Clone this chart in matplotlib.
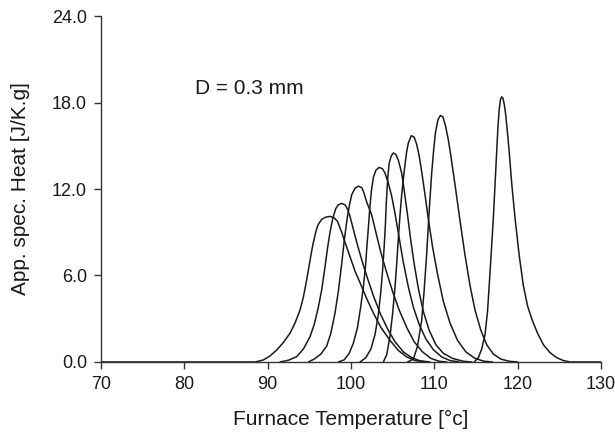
import matplotlib
matplotlib.use("Agg")
import matplotlib.pyplot as plt

plt.rcParams['font.family'] = ['Liberation Sans', 'DejaVu Sans']

# Apparent specific heat curves (furnace temperature in °C, heat in J/K.g)
temp_1 = [70.0, 88.5, 89.5, 90.3, 91.1, 91.9, 92.7, 93.3, 93.9, 94.3, 94.7, 95.0, 95.3, 95.5, 95.7,
          95.9, 96.1, 96.5, 97.0, 97.5, 98.0, 98.4, 98.9, 99.3, 99.9, 100.5, 101.1, 101.9, 102.7,
          103.6, 104.7, 105.7, 106.7, 107.7, 109.0]
heat_1 = [0.0, 0.0, 0.14, 0.42, 0.83, 1.35, 2.0, 2.7, 3.6, 4.5, 5.7, 6.7, 7.7, 8.3, 8.8,
          9.25, 9.55, 9.9, 10.05, 10.1, 10.0, 9.75, 9.0, 8.3, 7.3, 6.3, 5.5, 4.4, 3.4,
          2.4, 1.5, 0.8, 0.35, 0.1, 0.0]

temp_2 = [91.5, 92.5, 93.5, 94.3, 95.1, 95.6, 96.1, 96.5, 96.9, 97.2, 97.5, 97.7, 97.9, 98.2, 98.5,
          98.9, 99.3, 99.6, 99.9, 100.3, 100.8, 101.4, 102.0, 102.7, 103.5, 104.4, 105.3, 106.3,
          107.3, 108.3, 109.5]
heat_2 = [0.0, 0.12, 0.37, 0.9, 1.75, 2.6, 3.8, 5.0, 6.6, 7.9, 9.0, 9.6, 10.1, 10.65, 10.9,
          11.0, 10.9, 10.6, 10.1, 9.2, 8.1, 6.9, 5.8, 4.6, 3.4, 2.3, 1.4, 0.7,
          0.3, 0.08, 0.0]

temp_3 = [94.9, 95.6, 96.4, 97.1, 97.6, 98.1, 98.5, 98.9, 99.2, 99.45, 99.6, 99.8, 100.1, 100.5,
          100.9, 101.3, 101.5, 101.9, 102.5, 103.0, 103.6, 104.3, 105.0, 105.8, 106.7, 107.6,
          108.6, 109.6, 110.6, 111.5]
heat_3 = [0.0, 0.2, 0.55, 1.1, 2.0, 3.4, 4.9, 6.8, 8.4, 9.5, 10.1, 10.8, 11.6, 12.05,
          12.2, 12.1, 11.85, 11.1, 10.2, 9.0, 7.6, 6.2, 4.9, 3.6, 2.4, 1.4,
          0.7, 0.25, 0.05, 0.0]

temp_4 = [98.5, 99.2, 99.8, 100.3, 100.8, 101.2, 101.5, 101.75, 101.95, 102.1, 102.25, 102.45,
          102.7, 103.0, 103.4, 103.8, 104.1, 104.5, 104.9, 105.3, 105.8, 106.3, 106.9, 107.5,
          108.2, 109.0, 109.9, 110.9, 111.9, 113.0]
heat_4 = [0.0, 0.15, 0.6, 1.3, 2.4, 3.9, 5.2, 6.6, 8.2, 9.3, 10.5, 11.8,
          12.8, 13.3, 13.5, 13.4, 13.1, 12.4, 11.5, 10.3, 8.6, 6.9, 5.2, 3.8,
          2.6, 1.6, 0.85, 0.35, 0.1, 0.0]

temp_5 = [101.1, 101.8, 102.4, 102.9, 103.3, 103.6, 103.8, 104.0, 104.15, 104.25, 104.35, 104.45,
          104.6, 104.85, 105.1, 105.4, 105.7, 106.1, 106.4, 106.8, 107.2, 107.6, 108.1, 108.7,
          109.4, 110.2, 111.1, 112.2, 113.5, 114.5]
heat_5 = [0.0, 0.3, 0.9, 1.9, 3.3, 4.9, 6.3, 8.0, 9.6, 11.0, 12.0, 12.9,
          13.8, 14.3, 14.5, 14.4, 14.0, 13.1, 11.9, 10.2, 8.4, 6.8, 5.1, 3.5,
          2.2, 1.2, 0.6, 0.25, 0.05, 0.0]

temp_6 = [103.9, 104.3, 104.7, 105.0, 105.3, 105.5, 105.7, 105.9, 106.1, 106.3, 106.5, 106.7,
          106.9, 107.25, 107.6, 107.9, 108.2, 108.5, 108.9, 109.3, 109.8, 110.4, 111.1, 111.9,
          112.8, 113.8, 114.9, 116.0, 117.0]
heat_6 = [0.0, 0.5, 1.8, 3.3, 5.2, 6.8, 8.6, 10.2, 11.6, 12.7, 13.7, 14.6,
          15.2, 15.7, 15.6, 15.1, 14.3, 13.2, 11.6, 9.9, 8.0, 6.1, 4.2, 2.7,
          1.5, 0.7, 0.25, 0.05, 0.0]

temp_7 = [106.8, 107.5, 108.0, 108.5, 108.8, 109.1, 109.4, 109.7, 109.95, 110.15, 110.45, 110.75,
          111.05, 111.35, 111.7, 112.0, 112.5, 113.1, 113.7, 114.3, 114.9, 115.6, 116.3, 117.1,
          118.0, 119.0, 120.0]
heat_7 = [0.0, 0.2, 1.1, 2.9, 5.0, 7.5, 10.5, 13.1, 14.8, 15.9, 16.8, 17.1,
          17.0, 16.4, 15.4, 14.3, 12.3, 9.8, 7.4, 5.3, 3.6, 2.2, 1.2, 0.55,
          0.2, 0.05, 0.0]

temp_8 = [114.8, 115.3, 115.7, 116.1, 116.4, 116.6, 116.85, 117.1, 117.3, 117.5, 117.65, 117.8,
          117.95, 118.1, 118.25, 118.4, 118.55, 118.75, 119.0, 119.3, 119.7, 120.2, 120.7, 121.2,
          121.7, 122.4, 123.1, 123.9, 124.7, 125.5, 126.3, 130.0]
heat_8 = [0.0, 0.3, 0.9, 1.9, 3.5, 5.3, 7.6, 10.0, 12.3, 14.6, 16.3, 17.5,
          18.2, 18.4, 18.3, 17.9, 17.3, 16.2, 14.6, 12.4, 10.0, 7.4, 5.3, 3.9,
          3.0, 2.0, 1.2, 0.65, 0.3, 0.1, 0.0, 0.0]

curves = [(temp_1, heat_1), (temp_2, heat_2), (temp_3, heat_3), (temp_4, heat_4),
          (temp_5, heat_5), (temp_6, heat_6), (temp_7, heat_7), (temp_8, heat_8)]

x_ticks = [70, 80, 90, 100, 110, 120, 130]
y_ticks = [0.0, 6.0, 12.0, 18.0, 24.0]

fig = plt.figure(figsize=(6.15, 4.33), dpi=100)
ax = fig.add_axes([0.164, 0.164, 0.813, 0.799])

for t, h in curves:
    ax.plot(t, h, color='#1a1a1a', linewidth=1.1, solid_joinstyle='round',
            solid_capstyle='round')

ax.set_xlim(70, 130)
ax.set_ylim(0, 24)
ax.set_xticks(x_ticks)
ax.set_yticks(y_ticks)
ax.set_yticklabels([f"{v:.1f}" for v in y_ticks])

for side in ('top', 'right'):
    ax.spines[side].set_visible(False)
for side in ('left', 'bottom'):
    ax.spines[side].set_linewidth(1.0)
    ax.spines[side].set_color('#333333')
ax.tick_params(direction='out', length=5, width=1.0, color='#333333',
               labelsize=13, labelcolor='#1a1a1a', pad=5)

ax.set_xlabel('Furnace Temperature [°c]', fontsize=15, color='#1a1a1a', labelpad=12)
ax.set_ylabel('App. spec. Heat [J/K.g]', fontsize=15, color='#1a1a1a', labelpad=16)

ax.text(81.3, 19.0, 'D = 0.3 mm', fontsize=15, color='#1a1a1a', va='center', ha='left')

fig.savefig('out.png', dpi=100)
